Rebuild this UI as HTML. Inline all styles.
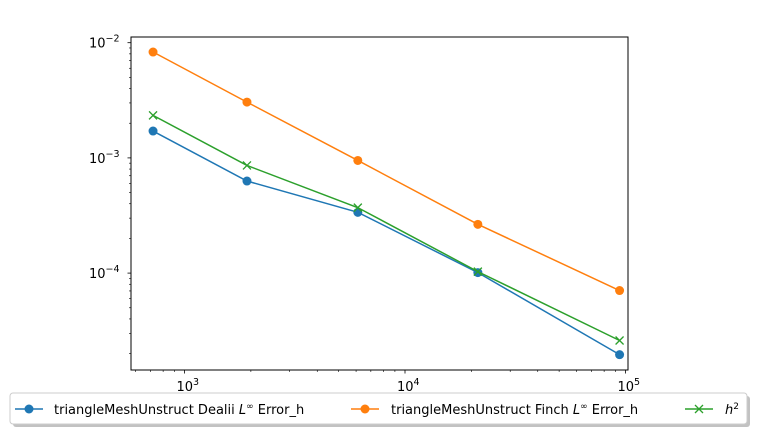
<!DOCTYPE html>
<html><head><meta charset="utf-8"><style>
body{margin:0;background:#fff;width:757px;height:435px;overflow:hidden}
svg text{font-family:"DejaVu Sans","Liberation Sans",sans-serif;}
</style></head><body>
<svg id="chart" width="757" height="435" xmlns="http://www.w3.org/2000/svg">
<g id="ticks"></g>
<g id="series"></g>
<rect x="131" y="37" width="497" height="333" fill="none" stroke="#000" stroke-width="1"/>
<g>
<rect x="13" y="396" width="737" height="31" rx="3" fill="#999" opacity="0.6"/>
<rect x="10" y="393" width="737" height="31" rx="3" fill="#fff" stroke="#ccc"/>
<g>
<line x1="15" y1="409" x2="43" y2="409" stroke="#1f77b4" stroke-width="1.5"/><circle cx="29" cy="409" r="4.5" fill="#1f77b4"/>
<text x="54" y="414" font-size="13">triangleMeshUnstruct Dealii <tspan font-style="italic">L</tspan><tspan font-size="9" dy="-5">∞</tspan><tspan dy="5"> Error_h</tspan></text></g>
<g>
<line x1="351" y1="409" x2="379" y2="409" stroke="#ff7f0e" stroke-width="1.5"/><circle cx="365" cy="409" r="4.5" fill="#ff7f0e"/>
<text x="391" y="414" font-size="13">triangleMeshUnstruct Finch <tspan font-style="italic">L</tspan><tspan font-size="9" dy="-5">∞</tspan><tspan dy="5"> Error_h</tspan></text></g>
<g>
<line x1="685" y1="409" x2="713" y2="409" stroke="#2ca02c" stroke-width="1.5"/><path d="M695,405l8,8M695,413l8,-8" stroke="#2ca02c" stroke-width="1.3"/>
<text x="725" y="414" font-size="13" font-style="italic">h<tspan font-size="9" dy="-5" font-style="normal">2</tspan></text></g>
</g>
</svg>
<script>
const xValues=[720,1920,6110,21400,94000];
const dealii=[1.71e-3,6.3e-4,3.37e-4,1.01e-4,1.96e-5];
const finch=[8.3e-3,3.05e-3,9.5e-4,2.65e-4,7.06e-5];
const h2=[2.34e-3,8.6e-4,3.7e-4,1.03e-4,2.6e-5];
const xTickLabels=["3","4","5"];
const yTickLabels=["−2","−3","−4"];
const NS="http://www.w3.org/2000/svg";
function X(v){return 184.5+(Math.log10(v)-3)*220.5;}
function Y(v){return 42.7+(-2-Math.log10(v))*115.2;}
function mk(t,a,p){const e=document.createElementNS(NS,t);for(const k in a)e.setAttribute(k,a[k]);p.appendChild(e);return e;}
const tg=document.getElementById('ticks'),sg=document.getElementById('series');
for(let d=2;d<=5;d++)for(let m=1;m<10;m++){const v=m*Math.pow(10,d);const x=X(v);if(x<131||x>629)continue;
const t=mk('line',{x1:x,x2:x,y1:370,y2:370+(m==1?3.5:2),stroke:'#000','stroke-width':m==1?0.8:0.6},tg);

}
xTickLabels.forEach(s=>{const x=X(Math.pow(10,+s));const t=mk('text',{x:x-8,y:391,'font-size':13},tg);t.innerHTML='10<tspan font-size="9.5" dy="-6">'+s+'</tspan>';

});
for(let d=-5;d<=-2;d++)for(let m=1;m<10;m++){const v=m*Math.pow(10,d);const y=Y(v);if(y<36.5||y>370.5)continue;
const t=mk('line',{x1:131,x2:131-(m==1?3.5:2),y1:y,y2:y,stroke:'#000','stroke-width':m==1?0.8:0.6},tg);

}
yTickLabels.forEach(s=>{const y=Y(Math.pow(10,-(+s.replace('−',''))));const t=mk('text',{x:89,y:y+5,'font-size':13},tg);t.innerHTML='10<tspan font-size="9.5" dy="-6">'+s+'</tspan>';

});
function series(vals,color,marker,name){const g=mk('g',{},sg);


mk('polyline',{points:vals.map((v,i)=>X(xValues[i])+','+Y(v)).join(' '),fill:'none',stroke:color,'stroke-width':1.5},g);
vals.forEach((v,i)=>{const x=X(xValues[i]),y=Y(v);let m;
if(marker=='o')m=mk('circle',{cx:x,cy:y,r:4.5,fill:color},g);
else m=mk('path',{d:`M${x-4},${y-4}l8,8M${x-4},${y+4}l8,-8`,stroke:color,'stroke-width':1.3},g);

});}
series(dealii,'#1f77b4','o','dealii-series');
series(finch,'#ff7f0e','o','finch-series');
series(h2,'#2ca02c','x','h2-series');
</script>
</body></html>
